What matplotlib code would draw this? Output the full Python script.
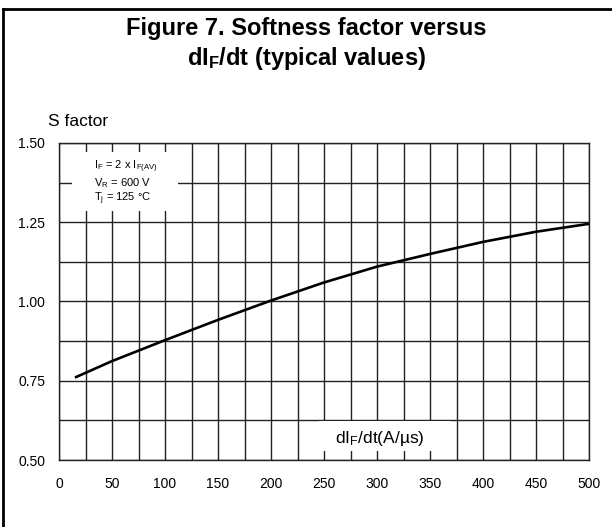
import matplotlib
matplotlib.use("Agg")
import matplotlib.pyplot as plt
from matplotlib.patches import Rectangle
from matplotlib.lines import Line2D

plt.rcParams['font.family'] = ['Liberation Sans', 'DejaVu Sans']
plt.rcParams['mathtext.fontset'] = 'custom'
plt.rcParams['mathtext.rm'] = 'Liberation Sans'
plt.rcParams['mathtext.it'] = 'Liberation Sans'
plt.rcParams['mathtext.bf'] = 'Liberation Sans:bold'

# Data
didt = [15, 50, 100, 150, 200, 250, 300, 350, 400, 450, 500]
s_factor = [0.760, 0.812, 0.878, 0.942, 1.003, 1.060, 1.110, 1.150, 1.188, 1.220, 1.245]

x_ticks = [0, 50, 100, 150, 200, 250, 300, 350, 400, 450, 500]
x_minor = [25, 75, 125, 175, 225, 275, 325, 375, 425, 475]
y_ticks = [0.50, 0.75, 1.00, 1.25, 1.50]
y_minor = [0.625, 0.875, 1.125, 1.375]

W, H = 612, 527
fig = plt.figure(figsize=(W / 100, H / 100), dpi=100)
ax = fig.add_axes([59 / W, (H - 460) / H, (589 - 59) / W, (460 - 143) / H])

ax.set_xlim(0, 500)
ax.set_ylim(0.5, 1.5)
ax.set_xticks(x_ticks)
ax.set_xticks(x_minor, minor=True)
ax.set_yticks(y_ticks)
ax.set_yticks(y_minor, minor=True)
ax.set_xticklabels([str(v) for v in x_ticks])
ax.set_yticklabels([f"{v:.2f}" for v in y_ticks])
ax.tick_params(which='both', length=0, labelsize=10)
ax.tick_params(axis='x', pad=12)
ax.tick_params(axis='y', pad=10)
ax.set_axisbelow(True)
ax.grid(True, which='both', color='#222222', linewidth=1.0)
for sp in ax.spines.values():
    sp.set_color('#222222')
    sp.set_linewidth(1.0)

# white boxes behind the annotations
ax.add_patch(Rectangle((12.5, 1.285), 99.5, 0.187, facecolor='white',
                       edgecolor='none', zorder=1))
ax.add_patch(Rectangle((245, 0.528), 125, 0.094, facecolor='white',
                       edgecolor='none', zorder=1))

ax.plot(didt, s_factor, color='black', linewidth=1.9, zorder=3,
        solid_capstyle='butt')

ax.text(33, 1.425, r'$\mathregular{I_F}$ = 2 x $\mathregular{I_{F(AV)}}$',
        fontsize=8, va='center', ha='left', zorder=4)
ax.text(33, 1.373, r'$\mathregular{V_R}$ = 600 V',
        fontsize=8, va='center', ha='left', zorder=4)
ax.text(33, 1.325, r'$\mathregular{T_j}$ = 125 °C',
        fontsize=8, va='center', ha='left', zorder=4)

ax.text(303, 0.569, r'd$\mathregular{I_F}$/dt(A/µs)', fontsize=12.5,
        ha='center', va='center', zorder=4)

fig.text(48 / W, 1 - 122 / H, 'S factor', fontsize=12.5, ha='left', va='center')

fig.text(306 / W, 1 - 29 / H, 'Figure 7. Softness factor versus',
         fontsize=17, fontweight='bold', ha='center', va='center')
fig.text(306 / W, 1 - 58 / H, r'dI$_\mathbf{F}$/dt (typical values)',
         fontsize=17, fontweight='bold', ha='center', va='center')

# page frame (left and top edges)
fig.add_artist(Line2D([3 / W, 3 / W], [0, 1 - 9 / H], transform=fig.transFigure,
                      color='black', linewidth=2.0))
fig.add_artist(Line2D([3 / W, 1], [1 - 9 / H, 1 - 9 / H], transform=fig.transFigure,
                      color='black', linewidth=2.0))

fig.savefig('out.png', dpi=100)
